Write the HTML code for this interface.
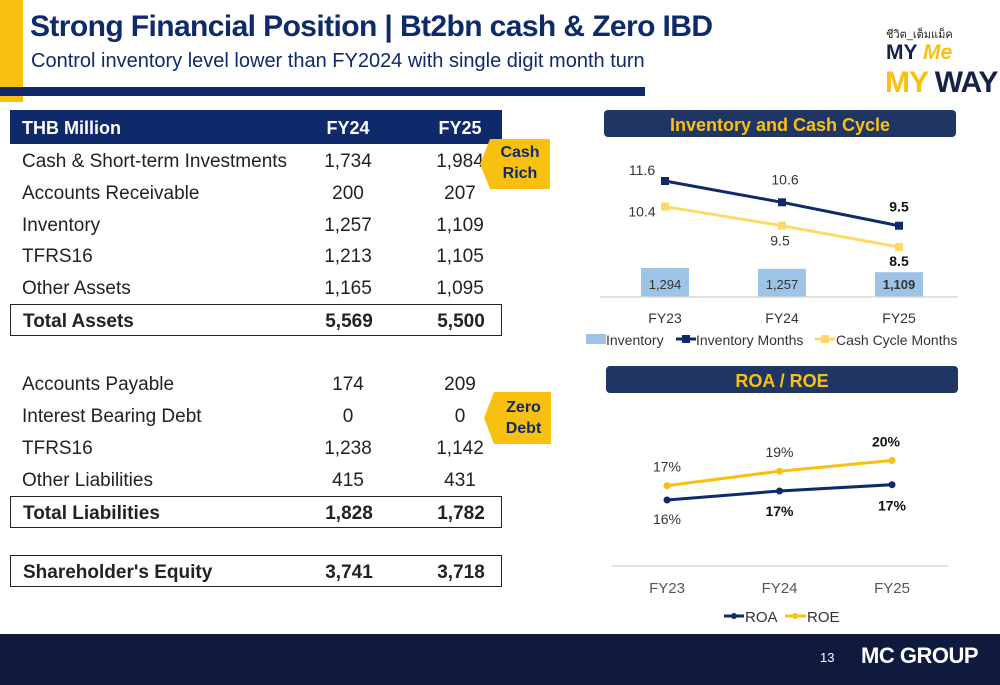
<!DOCTYPE html>
<html><head><meta charset="utf-8"><style>
body{margin:0;width:1000px;height:685px;overflow:hidden;background:#fff;font-family:"Liberation Sans",sans-serif;position:relative}
.a{position:absolute;white-space:nowrap}
.t{font-family:"Liberation Sans","Noto Sans CJK SC",sans-serif}
.row{position:absolute;left:10px;width:492px;height:32px;font-size:19px;color:#222}
.row span{position:absolute;top:6px}
.l{left:12px}.c1{left:290px;width:96px;text-align:center}.c2{left:402px;width:96px;text-align:center}
.box{border:1.5px solid #222;box-sizing:border-box;font-weight:bold}
</style></head><body>
<div class="a" style="left:0;top:0;width:23px;height:102px;background:#f9c00f"></div>
<div class="a" style="left:0;top:87px;width:645px;height:9px;background:#0f2a6b"></div>
<div class="a" style="left:30px;top:10px;font-size:30px;font-weight:bold;color:#0f2a6b;letter-spacing:-0.6px">Strong Financial Position | Bt2bn cash &amp; Zero IBD</div>
<div class="a" style="left:31px;top:50px;font-size:20px;color:#0f2a6b">Control inventory level lower than FY2024 with single digit month turn</div>
<div class="a t" style="left:886px;top:25px;font-size:11px;color:#222">ชีวิต_เต็มแม็ค</div>
<div class="a" style="left:886px;top:41px;font-size:21px;font-weight:bold;color:#162248">MY <i style="color:#f9c00f">Me</i></div>
<div class="a" style="left:885px;top:66px;font-size:30px;font-weight:bold;color:#162248;letter-spacing:-1px"><span style="color:#f9c00f">MY</span> WAY</div>

<div class="a" style="left:10px;top:110px;width:492px;height:34px;background:#0f2a6b;color:#fff;font-size:18px;font-weight:bold">
<span class="a" style="left:12px;top:8px">THB Million</span><span class="a" style="left:290px;width:96px;text-align:center;top:8px">FY24</span><span class="a" style="left:402px;width:96px;text-align:center;top:8px">FY25</span></div>
<div id="rows"></div>

<div class="a" style="left:480px;top:139px;width:70px;height:50px;background:#f9c00f;clip-path:polygon(10px 0,100% 0,100% 100%,10px 100%,0 50%)"><div style="position:absolute;left:12px;width:56px;top:3px;text-align:center;font-size:16px;font-weight:bold;color:#0f2a6b;line-height:21px">Cash<br>Rich</div></div>
<div class="a" style="left:484px;top:392px;width:67px;height:52px;background:#f9c00f;clip-path:polygon(10px 0,100% 0,100% 100%,10px 100%,0 50%)"><div style="position:absolute;left:12px;width:55px;top:5px;text-align:center;font-size:16px;font-weight:bold;color:#0f2a6b;line-height:21px">Zero<br>Debt</div></div>

<svg class="a" style="left:0;top:0" width="1000" height="685" id="charts"></svg>

<div class="a" style="left:0;top:634px;width:1000px;height:51px;background:#101a3f"></div>
<div class="a" style="left:820px;top:650px;font-size:13px;color:#fff">13</div>
<div class="a" style="left:861px;top:643px;font-size:22px;font-weight:bold;color:#fff;letter-spacing:-0.5px">MC GROUP</div>

<script>
const rows=[
["Cash & Short-term Investments","1,734","1,984",145,0],
["Accounts Receivable","200","207",177,0],
["Inventory","1,257","1,109",209,0],
["TFRS16","1,213","1,105",240,0],
["Other Assets","1,165","1,095",272,0],
["Total Assets","5,569","5,500",304,1],
["Accounts Payable","174","209",368,0],
["Interest Bearing Debt","0","0",400,0],
["TFRS16","1,238","1,142",432,0],
["Other Liabilities","415","431",464,0],
["Total Liabilities","1,828","1,782",496,1],
["Shareholder's Equity","3,741","3,718",555,1]];
const R=document.getElementById('rows');
rows.forEach(r=>{const d=document.createElement('div');d.className='row'+(r[4]?' box':'');d.style.top=r[3]+'px';


d.innerHTML=`<span class="l">${r[0]}</span><span class="c1">${r[1]}</span><span class="c2">${r[2]}</span>`;R.appendChild(d);});

// chart data
const cats=["FY23","FY24","FY25"];
const inventory=[1294,1257,1109];
const invMonths=[11.6,10.6,9.5];
const cashCycle=[10.4,9.5,8.5];
const roa=[16.0,17.0,17.7];
const roe=[17.6,19.2,20.4];
const roaLbl=["16%","17%","17%"];
const roeLbl=["17%","19%","20%"];

const S=document.getElementById('charts'),NS='http://www.w3.org/2000/svg';
function el(t,a,txt){const e=document.createElementNS(NS,t);for(const k in a)e.setAttribute(k,a[k]);if(txt!=null)e.textContent=txt;S.appendChild(e);return e;}
const xc=i=>665+i*117;
let h=el('rect',{x:604,y:110,width:352,height:27,rx:4,fill:'#1f3664'});


let ht=el('text',{x:780,y:131,'text-anchor':'middle','font-size':18,'font-weight':'bold',fill:'#f9c00f'},'Inventory and Cash Cycle');


const base=297,yb=v=>v*0.0224,ym=v=>181+(11.6-v)*21.3;
inventory.forEach((v,i)=>{const b=el('rect',{x:xc(i)-24,y:base-yb(v),width:48,height:yb(v),fill:'#9dc3e6'});


const t=el('text',{x:xc(i),y:base-8,'text-anchor':'middle','font-size':13,fill:'#333','font-weight':i==2?'bold':'normal'},v.toLocaleString('en-US'));

});
let ax=el('line',{x1:600,x2:958,y1:base,y2:base,stroke:'#d9d9d9','stroke-width':1.5});


function series(vals,f,col,name,mk){const p=el('polyline',{points:vals.map((v,i)=>xc(i)+','+f(v)).join(' '),fill:'none',stroke:col,'stroke-width':3});


vals.forEach((v,i)=>{const m=mk=='sq'?el('rect',{x:xc(i)-4,y:f(v)-4,width:8,height:8,fill:col}):el('circle',{cx:xc(i),cy:f(v),r:3.5,fill:col});

});}
series(cashCycle,ym,'#ffd966','cash-cycle','sq');
series(invMonths,ym,'#0f2a6b','inventory-months','sq');
const lbl=(x,y,s,b,name)=>{const t=el('text',{x,y,'text-anchor':'middle','font-size':14,'font-weight':b?'bold':'normal',fill:b?'#111':'#333'},s);

};
lbl(xc(0)-23,ym(invMonths[0])-6,invMonths[0].toFixed(1),0,'inv-months-label');
lbl(xc(1)+3,ym(invMonths[1])-18,invMonths[1].toFixed(1),0,'inv-months-label');
lbl(xc(2),ym(invMonths[2])-14,invMonths[2].toFixed(1),1,'inv-months-label');
lbl(xc(0)-23,ym(cashCycle[0])+10,cashCycle[0].toFixed(1),0,'cash-cycle-label');
lbl(xc(1)-2,ym(cashCycle[1])+20,cashCycle[1].toFixed(1),0,'cash-cycle-label');
lbl(xc(2),ym(cashCycle[2])+19,cashCycle[2].toFixed(1),1,'cash-cycle-label');
cats.forEach((c,i)=>{const t=el('text',{x:xc(i),y:323,'text-anchor':'middle','font-size':14,fill:'#333'},c);

});
el('rect',{x:586,y:334,width:20,height:10,fill:'#9dc3e6'});
el('line',{x1:676,x2:696,y1:339,y2:339,stroke:'#0f2a6b','stroke-width':3});el('rect',{x:682,y:335,width:8,height:8,fill:'#0f2a6b'});
el('line',{x1:815,x2:835,y1:339,y2:339,stroke:'#ffd966','stroke-width':3});el('rect',{x:821,y:335,width:8,height:8,fill:'#ffd966'});
[['Inventory',606],['Inventory Months',696],['Cash Cycle Months',836]].forEach(a=>{const t=el('text',{x:a[1],y:345,'font-size':14,fill:'#333'},a[0]);

});

let h2=el('rect',{x:606,y:366,width:352,height:27,rx:4,fill:'#1f3664'});


let h2t=el('text',{x:782,y:387,'text-anchor':'middle','font-size':18,'font-weight':'bold',fill:'#f9c00f'},'ROA / ROE');


const x2=i=>667+i*112.5,yp=v=>500-(v-16)*9;
let ax2=el('line',{x1:612,x2:948,y1:566,y2:566,stroke:'#d9d9d9','stroke-width':1.5});


function s2(vals,col,name){const p=el('polyline',{points:vals.map((v,i)=>x2(i)+','+yp(v)).join(' '),fill:'none',stroke:col,'stroke-width':3});


vals.forEach((v,i)=>{const c=el('circle',{cx:x2(i),cy:yp(v),r:3.5,fill:col});

});}
s2(roe,'#f9c00f','roe');s2(roa,'#0f2a6b','roa');
roeLbl.forEach((s,i)=>lbl(x2(i)+(i==2?-6:0),yp(roe[i])-14,s,i==2,'roe-label'));
roaLbl.forEach((s,i)=>lbl(x2(i),yp(roa[i])+(i==0?24:i==1?25:26),s,i>0,'roa-label'));
cats.forEach((c,i)=>{const t=el('text',{x:x2(i),y:593,'text-anchor':'middle','font-size':15,fill:'#555'},c);

});
el('line',{x1:724,x2:744,y1:616,y2:616,stroke:'#0f2a6b','stroke-width':3});el('circle',{cx:734,cy:616,r:3,fill:'#0f2a6b'});
el('line',{x1:785,x2:806,y1:616,y2:616,stroke:'#f9c00f','stroke-width':3});el('circle',{cx:795,cy:616,r:3,fill:'#f9c00f'});
[['ROA',745],['ROE',807]].forEach(a=>{const t=el('text',{x:a[1],y:622,'font-size':15,fill:'#333'},a[0]);

});
</script>
</body></html>
